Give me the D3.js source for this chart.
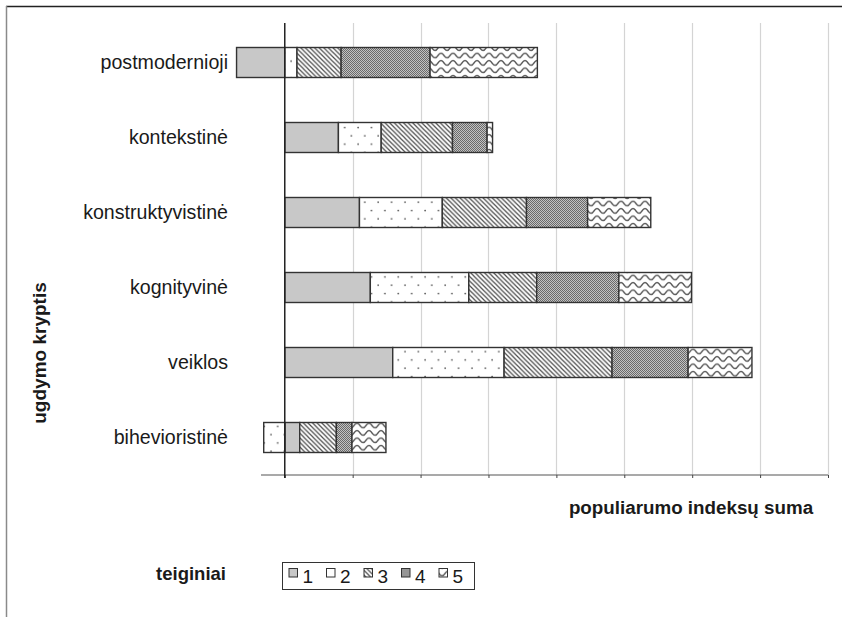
<!DOCTYPE html>
<html>
<head>
<meta charset="utf-8">
<script src="https://cdn.jsdelivr.net/npm/d3@7"></script>
<style>
  html, body { margin: 0; padding: 0; background: #fff; }
  svg { display: block; }
  text { font-family: "Liberation Sans", Arial, sans-serif; fill: #1a1a1a; }
</style>
</head>
<body>
<svg id="chart" width="842" height="617"></svg>
<script>
// ---- data ----
const categories = ["postmodernioji", "kontekstinė", "konstruktyvistinė", "kognityvinė", "veiklos", "bihevioristinė"];
const seriesKeys = ["1", "2", "3", "4", "5"];
const t1 = [-0.71, 0.79, 1.10, 1.26, 1.59, 0.22];
const t2 = [0.18, 0.63, 1.22, 1.45, 1.64, -0.31];
const t3 = [0.65, 1.05, 1.24, 1.00, 1.59, 0.54];
const t4 = [1.31, 0.51, 0.90, 1.21, 1.12, 0.23];
const t5 = [1.58, 0.08, 0.93, 1.07, 0.94, 0.50];
const gridTicks = [0, 1, 2, 3, 4, 5, 6, 7, 8];
const xDomain = [-0.35, 8];
const xTitle = "populiarumo indeksų suma";
const yTitle = "ugdymo kryptis";
const legendTitle = "teiginiai";

const seriesValues = [t1, t2, t3, t4, t5];
const rows = categories.map((c, i) => {
  const r = { cat: c };
  seriesKeys.forEach((k, j) => r[k] = seriesValues[j][i]);
  return r;
});

const svg = d3.select("#chart");

// ---- patterns ----
const defs = svg.append("defs");
const ink = "#555";
// 2: sparse dots
const p2 = defs.append("pattern").attr("id", "pat2").attr("patternUnits", "userSpaceOnUse")
  .attr("width", 13.4).attr("height", 16.6);
p2.append("rect").attr("width", 13.4).attr("height", 16.6).attr("fill", "#fff");
p2.append("circle").attr("cx", 3).attr("cy", 3).attr("r", 0.9).attr("fill", ink);
p2.append("circle").attr("cx", 9.7).attr("cy", 11.3).attr("r", 0.9).attr("fill", ink);
// 3: diagonal lines
const p3 = defs.append("pattern").attr("id", "pat3").attr("patternUnits", "userSpaceOnUse")
  .attr("width", 4.6).attr("height", 4.6);
p3.append("rect").attr("width", 4.6).attr("height", 4.6).attr("fill", "#fff");
p3.append("path").attr("d", "M-1,-1 L5.6,5.6 M-1,3.6 L1,5.6 M3.6,-1 L5.6,1")
  .attr("stroke", "#4a4a4a").attr("stroke-width", 1.2);
// 4: dense fine checker
const p4 = defs.append("pattern").attr("id", "pat4").attr("patternUnits", "userSpaceOnUse")
  .attr("width", 2).attr("height", 2);
p4.append("rect").attr("width", 2).attr("height", 2).attr("fill", "#c2c2c2");
p4.append("rect").attr("width", 1).attr("height", 1).attr("fill", "#6a6a6a");
p4.append("rect").attr("x", 1).attr("y", 1).attr("width", 1).attr("height", 1).attr("fill", "#6a6a6a");
// 5: waves
const p5 = defs.append("pattern").attr("id", "pat5").attr("patternUnits", "userSpaceOnUse")
  .attr("width", 12).attr("height", 7.4);
p5.append("rect").attr("width", 12).attr("height", 7.4).attr("fill", "#fff");
p5.append("path").attr("d", "M-6,3.7 Q-3,-1 0,3.7 T6,3.7 T12,3.7 T18,3.7")
  .attr("fill", "none").attr("stroke", ink).attr("stroke-width", 1.3);

const fills = {"1": "#c8c8c8", "2": "url(#pat2)", "3": "url(#pat3)", "4": "url(#pat4)", "5": "url(#pat5)"};

// ---- outer frame ----
svg.append("line").attr("x1", 6).attr("x2", 842).attr("y1", 6.5).attr("y2", 6.5)
  .attr("stroke", "#222").attr("stroke-width", 1.5);
svg.append("line").attr("x1", 6.5).attr("x2", 6.5).attr("y1", 6).attr("y2", 617)
  .attr("stroke", "#8a8a8a").attr("stroke-width", 1.5);

// ---- scales ----
const plotTop = 25, plotBottom = 475;
const x = d3.scaleLinear().domain(xDomain).range([261, 828]);
const y = d3.scaleBand().domain(categories).range([plotTop, plotBottom]).paddingInner(0.6).paddingOuter(0.3);

// gridlines
svg.append("g").selectAll("line").data(gridTicks.filter(d => d !== 0)).join("line")
  .attr("x1", d => Math.round(x(d)) + 0.5).attr("x2", d => Math.round(x(d)) + 0.5)
  .attr("y1", 23).attr("y2", plotBottom)
  .attr("stroke", "#d4d4d4").attr("stroke-width", 1.2);

// bottom axis
const xAxis = d3.axisBottom(x).tickValues(gridTicks).tickSize(3).tickFormat("");
const gx = svg.append("g").attr("transform", `translate(0,${plotBottom})`).call(xAxis);
gx.select(".domain").attr("stroke", "#555").attr("stroke-width", 1.2).attr("d", `M261,0H828`);
gx.selectAll(".tick line").attr("stroke", "#444");

// bars
const stack = d3.stack().keys(seriesKeys).offset(d3.stackOffsetDiverging);
const stacked = stack(rows);
svg.append("g").selectAll("g").data(stacked).join("g")
  .attr("fill", d => fills[d.key])
  .selectAll("rect").data(d => d).join("rect")
  .attr("x", d => x(Math.min(d[0], d[1])))
  .attr("width", d => Math.abs(x(d[1]) - x(d[0])))
  .attr("y", d => y(d.data.cat))
  .attr("height", y.bandwidth())
  .attr("stroke", "#333").attr("stroke-width", 1.4);

// zero axis
svg.append("line").attr("x1", x(0)).attr("x2", x(0)).attr("y1", 23).attr("y2", plotBottom + 3)
  .attr("stroke", "#222").attr("stroke-width", 1.5);

// category labels
svg.append("g").selectAll("text").data(categories).join("text")
  .attr("x", 228).attr("y", d => y(d) + y.bandwidth() / 2 + 6.5)
  .attr("text-anchor", "end").attr("font-size", 19.6).text(d => d);

// titles
svg.append("text").attr("x", 691).attr("y", 514).attr("text-anchor", "middle")
  .attr("font-size", 18.8).attr("font-weight", "bold").text(xTitle);
svg.append("text").attr("transform", "translate(46,353) rotate(-90)").attr("text-anchor", "middle")
  .attr("font-size", 19).attr("font-weight", "bold").text(yTitle);
svg.append("text").attr("x", 226).attr("y", 580).attr("text-anchor", "end")
  .attr("font-size", 18.5).attr("font-weight", "bold").text(legendTitle);

// legend
const lg = svg.append("g");
lg.append("rect").attr("x", 282.5).attr("y", 562.5).attr("width", 192).attr("height", 27)
  .attr("fill", "#fff").attr("stroke", "#333").attr("stroke-width", 1);
const items = lg.selectAll("g.item").data(seriesKeys).join("g").attr("class", "item")
  .attr("transform", (d, i) => `translate(${289 + i * 37.5},0)`);
items.append("rect").attr("x", 0).attr("y", 568.5).attr("width", 8.5).attr("height", 8.5)
  .attr("fill", d => fills[d]).attr("stroke", "#333").attr("stroke-width", 1);
items.append("text").attr("x", 13.5).attr("y", 582.5).attr("font-size", 19).text(d => d);
</script>
</body>
</html>
